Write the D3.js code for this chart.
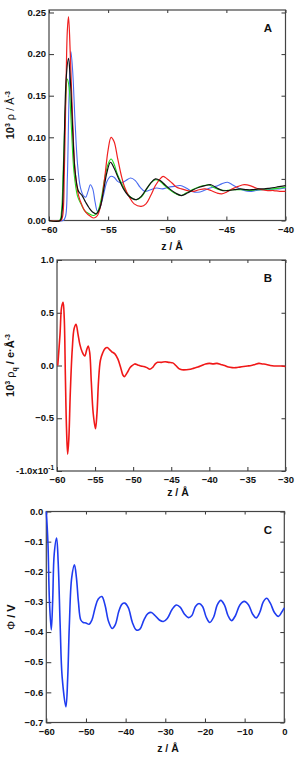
<!DOCTYPE html>
<html>
<head>
<meta charset="utf-8">
<script src="https://cdn.jsdelivr.net/npm/d3@7"></script>
<style>
  body { margin: 0; background: #fff; }
  svg text { font-family: "Liberation Sans", Arial, sans-serif; font-weight: bold; fill: #111; }
</style>
</head>
<body>
<svg id="fig" width="307" height="757"></svg>
<script>
// panel A : number density profiles, 4 runs
const rhoBlue = [[-60,0],[-58.8,0],[-58.6,0.005],[-58.45,0.05],[-58.3,0.15],[-58.15,0.203],[-58.0,0.18],[-57.8,0.12],[-57.6,0.07],[-57.35,0.04],[-57.1,0.03],[-56.9,0.028],[-56.7,0.035],[-56.5,0.043],[-56.3,0.038],[-56.1,0.022],[-55.9,0.011],[-55.7,0.015],[-55.4,0.03],[-55.1,0.047],[-54.8,0.053],[-54.5,0.052],[-54.2,0.047],[-53.9,0.045],[-53.5,0.048],[-53.1,0.051],[-52.7,0.048],[-52.3,0.04],[-51.9,0.035],[-51.4,0.037],[-50.9,0.039],[-50.4,0.038],[-49.9,0.04],[-49.4,0.041],[-48.9,0.042],[-48.4,0.039],[-47.9,0.035],[-47.4,0.034],[-46.9,0.036],[-46.4,0.039],[-45.9,0.041],[-45.4,0.044],[-44.9,0.046],[-44.5,0.043],[-44.0,0.039],[-43.5,0.036],[-43.0,0.035],[-42.5,0.036],[-42.0,0.037],[-41.5,0.037],[-41.0,0.038],[-40.5,0.038],[-40,0.039]];
const rhoGreen = [[-60,0],[-59.1,0],[-58.95,0.01],[-58.8,0.06],[-58.6,0.14],[-58.45,0.17],[-58.3,0.16],[-58.1,0.11],[-57.9,0.06],[-57.6,0.03],[-57.3,0.02],[-57.0,0.012],[-56.6,0.008],[-56.2,0.006],[-55.9,0.01],[-55.6,0.025],[-55.3,0.05],[-55.0,0.068],[-54.75,0.074],[-54.5,0.068],[-54.2,0.055],[-53.8,0.043],[-53.4,0.033],[-53.0,0.027],[-52.6,0.025],[-52.2,0.028],[-51.8,0.036],[-51.4,0.045],[-51.0,0.049],[-50.7,0.048],[-50.3,0.043],[-49.9,0.038],[-49.4,0.033],[-48.9,0.03],[-48.4,0.033],[-47.9,0.037],[-47.4,0.04],[-46.9,0.042],[-46.5,0.043],[-46.1,0.04],[-45.6,0.037],[-45.0,0.036],[-44.5,0.037],[-44.0,0.037],[-43.5,0.037],[-43.0,0.036],[-42.5,0.037],[-42.0,0.037],[-41.5,0.038],[-41.0,0.038],[-40.5,0.039],[-40,0.04]];
const rhoRed = [[-60,0],[-59.0,0],[-58.85,0.005],[-58.7,0.06],[-58.55,0.17],[-58.45,0.228],[-58.35,0.245],[-58.2,0.2],[-58.0,0.12],[-57.8,0.06],[-57.5,0.03],[-57.2,0.018],[-56.9,0.01],[-56.5,0.005],[-56.2,0.003],[-55.9,0.006],[-55.6,0.02],[-55.3,0.05],[-55.0,0.085],[-54.75,0.1],[-54.5,0.095],[-54.2,0.075],[-53.9,0.055],[-53.6,0.04],[-53.2,0.028],[-52.8,0.02],[-52.2,0.017],[-51.8,0.02],[-51.4,0.03],[-51.0,0.042],[-50.6,0.05],[-50.35,0.053],[-50.0,0.05],[-49.6,0.045],[-49.2,0.04],[-48.8,0.038],[-48.3,0.036],[-47.8,0.035],[-47.3,0.037],[-46.8,0.038],[-46.3,0.036],[-45.8,0.033],[-45.4,0.032],[-45.0,0.034],[-44.5,0.038],[-44.0,0.041],[-43.5,0.043],[-43.0,0.042],[-42.5,0.039],[-42.0,0.037],[-41.5,0.036],[-41,0.036],[-40.5,0.035],[-40,0.035]];
const rhoBlack = [[-60,0],[-59.05,0],[-58.9,0.01],[-58.75,0.07],[-58.55,0.17],[-58.35,0.195],[-58.2,0.17],[-58.0,0.11],[-57.8,0.06],[-57.5,0.035],[-57.2,0.03],[-56.9,0.022],[-56.6,0.015],[-56.3,0.01],[-56.0,0.008],[-55.7,0.015],[-55.4,0.035],[-55.1,0.058],[-54.8,0.07],[-54.5,0.063],[-54.1,0.05],[-53.7,0.038],[-53.3,0.03],[-52.9,0.026],[-52.6,0.025],[-52.2,0.029],[-51.8,0.037],[-51.4,0.045],[-51.0,0.05],[-50.6,0.048],[-50.2,0.043],[-49.8,0.038],[-49.3,0.033],[-48.8,0.03],[-48.3,0.033],[-47.8,0.037],[-47.3,0.04],[-46.8,0.042],[-46.3,0.043],[-45.8,0.039],[-45.3,0.036],[-44.8,0.036],[-44.3,0.037],[-43.8,0.038],[-43.3,0.037],[-42.8,0.037],[-42.3,0.038],[-41.8,0.038],[-41.3,0.039],[-40.8,0.04],[-40.4,0.041],[-40,0.042]];

// panel B : charge density
const rhoQ = [[-59.9,0.0],[-59.6,0.3],[-59.4,0.55],[-59.2,0.6],[-59.05,0.45],[-58.9,-0.1],[-58.75,-0.6],[-58.6,-0.84],[-58.45,-0.7],[-58.25,-0.25],[-58.0,0.15],[-57.75,0.35],[-57.5,0.39],[-57.25,0.3],[-57.0,0.2],[-56.7,0.13],[-56.35,0.09],[-56.1,0.15],[-55.9,0.185],[-55.7,0.12],[-55.5,-0.15],[-55.25,-0.45],[-54.95,-0.6],[-54.75,-0.45],[-54.55,-0.15],[-54.3,0.05],[-54.0,0.12],[-53.7,0.16],[-53.4,0.17],[-53.1,0.15],[-52.8,0.13],[-52.4,0.11],[-52.0,0.06],[-51.6,-0.03],[-51.35,-0.09],[-51.15,-0.105],[-50.8,-0.07],[-50.4,-0.02],[-50.1,0.0],[-49.8,0.015],[-49.4,0.005],[-49.0,-0.005],[-48.6,-0.01],[-48.2,-0.02],[-47.8,-0.035],[-47.4,-0.015],[-47.1,0.015],[-46.8,0.03],[-46.3,0.03],[-45.8,0.035],[-45.3,0.03],[-44.8,0.025],[-44.4,0.0],[-44.0,-0.03],[-43.6,-0.04],[-43.0,-0.04],[-42.5,-0.035],[-42.0,-0.025],[-41.5,-0.015],[-41.0,0.0],[-40.5,0.015],[-40.0,0.02],[-39.5,0.015],[-39.0,0.02],[-38.5,0.01],[-38.0,0.0],[-37.5,-0.015],[-37.0,-0.02],[-36.5,-0.02],[-36.0,-0.015],[-35.5,-0.01],[-35.0,-0.005],[-34.5,0.0],[-34.0,0.01],[-33.5,0.02],[-33.0,0.015],[-32.5,0.01],[-32.0,0.0],[-31.5,-0.005],[-31.0,-0.005],[-30.5,-0.005],[-30.0,-0.01]];

// panel C : electrostatic potential
const phi = [[-60,0.0],[-59.6,-0.1],[-59.2,-0.3],[-58.75,-0.393],[-58.4,-0.3],[-58.0,-0.14],[-57.4,-0.088],[-57.0,-0.17],[-56.5,-0.38],[-56.0,-0.55],[-55.05,-0.648],[-54.6,-0.55],[-54.2,-0.38],[-53.6,-0.22],[-52.9,-0.177],[-52.4,-0.22],[-51.9,-0.3],[-51.3,-0.36],[-50.7,-0.368],[-50.0,-0.37],[-49.2,-0.374],[-48.5,-0.36],[-47.7,-0.32],[-46.9,-0.29],[-46.0,-0.282],[-45.2,-0.31],[-44.3,-0.365],[-43.4,-0.388],[-42.6,-0.375],[-41.7,-0.33],[-40.9,-0.307],[-40.2,-0.304],[-39.3,-0.32],[-38.3,-0.368],[-37.3,-0.393],[-36.4,-0.39],[-35.4,-0.36],[-34.4,-0.339],[-33.5,-0.335],[-32.6,-0.345],[-31.5,-0.36],[-30.5,-0.365],[-29.5,-0.355],[-28.3,-0.325],[-27.2,-0.31],[-26.2,-0.318],[-25.2,-0.34],[-24.2,-0.352],[-23.3,-0.345],[-22.4,-0.315],[-21.5,-0.305],[-20.6,-0.315],[-19.7,-0.35],[-18.8,-0.368],[-17.8,-0.35],[-16.9,-0.31],[-16.0,-0.295],[-15.1,-0.31],[-14.2,-0.345],[-13.3,-0.362],[-12.3,-0.345],[-11.2,-0.31],[-10.1,-0.298],[-9.0,-0.31],[-8.0,-0.34],[-7.1,-0.353],[-6.2,-0.335],[-5.3,-0.3],[-4.45,-0.288],[-3.5,-0.305],[-2.5,-0.335],[-1.5,-0.348],[-0.7,-0.335],[0,-0.32]];

const ticksXA = [-60, -55, -50, -45, -40];
const ticksYA = [0, 0.05, 0.10, 0.15, 0.20, 0.25];
const ticksXB = [-60, -55, -50, -45, -40, -35, -30];
const ticksYB = [-1, -0.5, 0, 0.5, 1];
const ticksXC = [-60, -50, -40, -30, -20, -10, 0];
const ticksYC = [0, -0.1, -0.2, -0.3, -0.4, -0.5, -0.6, -0.7];

const svg = d3.select("#fig");

function panel(o) {
  const x = d3.scaleLinear().domain(o.xDom).range([o.left, o.right]);
  const y = d3.scaleLinear().domain(o.yDom).range([o.bottom, o.top]);
  const g = svg.append("g");

  const fmt = o.yFmt;
  g.append("g").attr("transform", `translate(${o.left},0)`)
    .call(d3.axisLeft(y).tickValues(o.yTicks).tickSize(-5).tickFormat(() => ""));
  g.append("g").attr("transform", `translate(${o.right},0)`)
    .call(d3.axisRight(y).tickValues(o.yTicks).tickSize(-4).tickFormat(""));
  g.append("g").attr("transform", `translate(0,${o.bottom})`)
    .call(d3.axisBottom(x).tickValues(o.xTicks).tickSize(-4).tickPadding(5.5).tickFormat(d3.format("d")));
  g.append("g").attr("transform", `translate(0,${o.top})`)
    .call(d3.axisTop(x).tickValues(o.xTicks).tickSize(-3).tickFormat(""));

  g.selectAll(".domain").remove();
  g.selectAll(".tick line").attr("stroke", "#333");
  g.selectAll(".tick text").attr("font-size", 9.5).attr("fill", "#111");

  // y tick labels drawn by hand so that superscripts are possible
  const yl = g.append("g").attr("font-size", 9.5).attr("text-anchor", "end");
  o.yTicks.forEach(v => {
    const t = yl.append("text").attr("x", o.left - 3).attr("y", y(v)).attr("dy", "0.34em");
    fmt(t, v);
  });

  g.append("rect")
    .attr("x", o.left).attr("y", o.top)
    .attr("width", o.right - o.left).attr("height", o.bottom - o.top)
    .attr("fill", "none").attr("stroke", "#444").attr("stroke-width", 1.2);

  const ln = d3.line().x(d => x(d[0])).y(d => y(d[1])).curve(d3.curveCatmullRom.alpha(0.5));
  o.series.forEach(s => {
    g.append("path").datum(s.data)
      .attr("d", ln).attr("fill", "none")
      .attr("stroke", s.color).attr("stroke-width", s.width || 1.2);
  });

  g.append("text").attr("x", o.letterX).attr("y", o.top + 22)
    .attr("font-size", 11.5).attr("text-anchor", "middle").text(o.letter);

  g.append("text").attr("x", o.xTitleX).attr("y", o.xTitleY)
    .attr("font-size", 10.5).attr("text-anchor", "middle")
    .text("z / Å");

  const yt = g.append("text")
    .attr("transform", `translate(${o.yTitleX},${(o.top + o.bottom) / 2}) rotate(-90)`)
    .attr("font-size", 11).attr("text-anchor", "middle");
  o.yTitle(yt);
}

const f2 = d3.format(".2f"), f1 = d3.format(".1f");

panel({
  left: 49, right: 285.5, top: 10, bottom: 220.5,
  xDom: [-60, -40], yDom: [0, 0.253],
  xTicks: ticksXA, yTicks: ticksYA,
  yFmt: (t, v) => t.text(f2(v)),
  series: [
    { data: rhoBlue, color: "#4a6cf0", width: 1.1 },
    { data: rhoGreen, color: "#22dd22", width: 1.1 },
    { data: rhoRed, color: "#f02020", width: 1.2 },
    { data: rhoBlack, color: "#111", width: 1.2 }
  ],
  letter: "A", letterX: 268,
  xTitleX: 172, xTitleY: 250, yTitleX: 14,
  yTitle: t => {
    t.append("tspan").text("10");
    t.append("tspan").attr("font-size", 7).attr("dy", -4).text("3");
    t.append("tspan").attr("dy", 4).attr("font-weight", "normal").text(" ρ / Å");
    t.append("tspan").attr("font-size", 7).attr("dy", -4).text("-3");
  }
});

panel({
  left: 57, right: 285.5, top: 260, bottom: 471,
  xDom: [-60, -30], yDom: [-1, 1],
  xTicks: ticksXB, yTicks: ticksYB,
  yFmt: (t, v) => {
    if (v === -1) {
      t.append("tspan").text("-1.0x10");
      t.append("tspan").attr("font-size", 6.5).attr("dy", -4).text("-1");
    } else t.text(f1(v));
  },
  series: [{ data: rhoQ, color: "#f01818", width: 1.6 }],
  letter: "B", letterX: 268,
  xTitleX: 178, xTitleY: 496, yTitleX: 14,
  yTitle: t => {
    t.append("tspan").text("10");
    t.append("tspan").attr("font-size", 7).attr("dy", -4).text("3");
    t.append("tspan").attr("dy", 4).attr("font-weight", "normal").text(" ρ");
    t.append("tspan").attr("font-size", 7).attr("dy", 2.5).text("q");
    t.append("tspan").attr("dy", -2.5).text(" / e·Å");
    t.append("tspan").attr("font-size", 7).attr("dy", -4).text("-3");
  }
});

panel({
  left: 46.3, right: 284.3, top: 511.5, bottom: 722.5,
  xDom: [-60, 0], yDom: [-0.7, 0],
  xTicks: ticksXC, yTicks: ticksYC,
  yFmt: (t, v) => t.text(v === 0 ? "0.0" : f1(v)),
  series: [{ data: phi, color: "#1f3cf0", width: 1.6 }],
  letter: "C", letterX: 268,
  xTitleX: 168, xTitleY: 752, yTitleX: 15,
  yTitle: t => {
    t.append("tspan").attr("font-weight", "normal").text("Φ");
    t.append("tspan").text(" / V");
  }
});
</script>
</body>
</html>
